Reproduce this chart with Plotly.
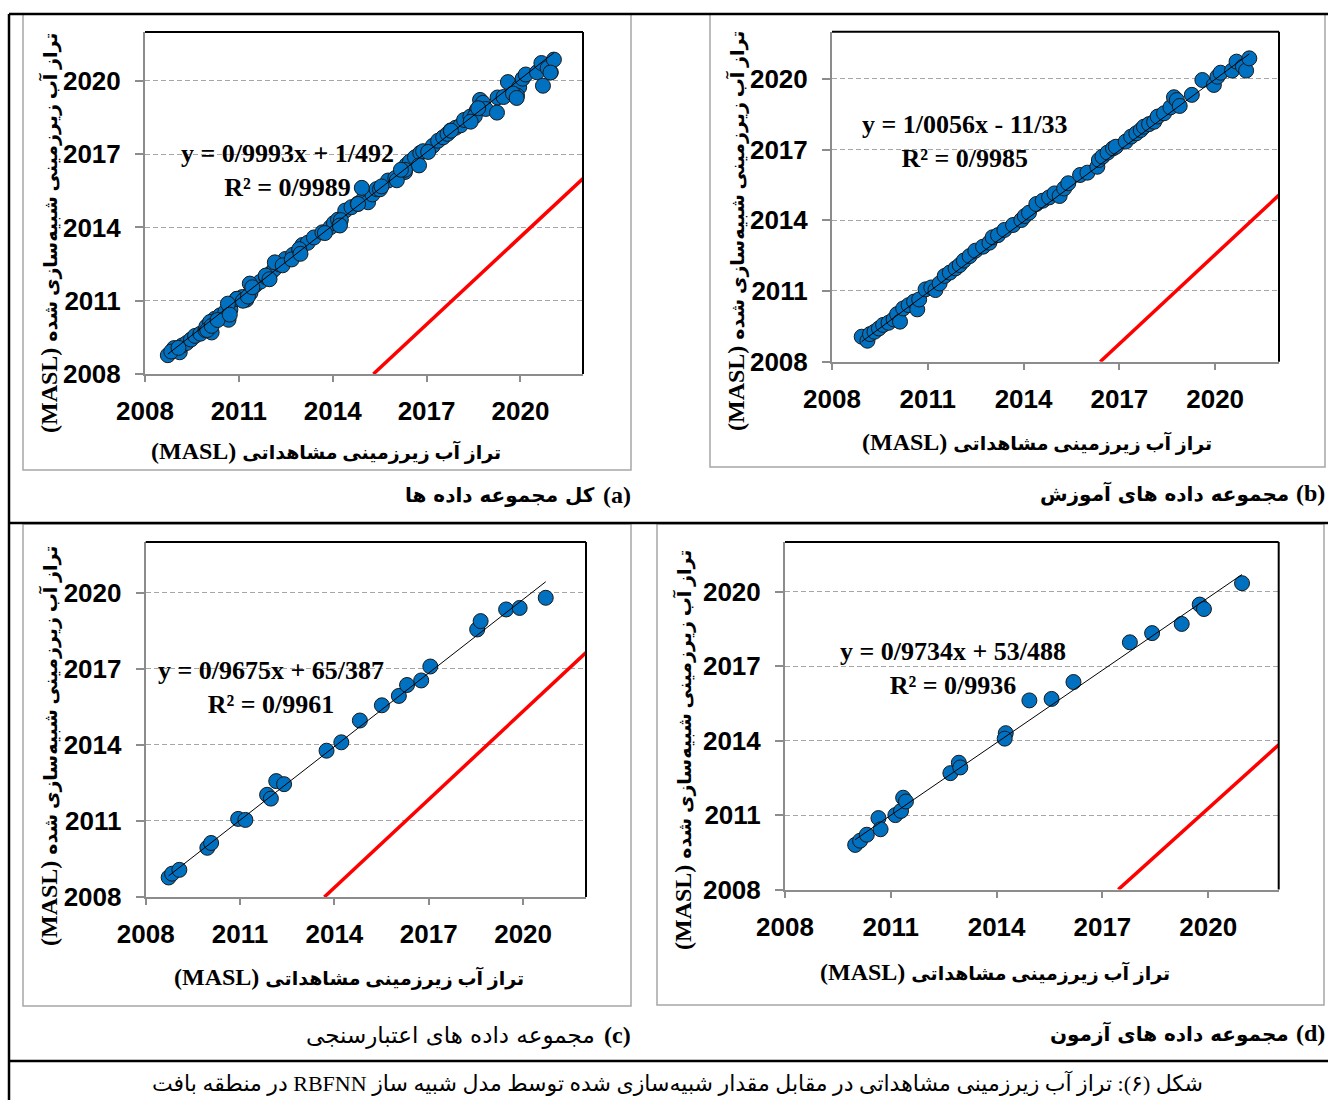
import plotly.graph_objects as go

W, H = 1328, 1100

# ---- data: observed vs simulated groundwater level (MASL) ----
train_obs = [2008.93, 2009.11, 2009.19, 2009.33, 2009.47, 2009.60, 2009.77, 2009.93, 2010.04, 2010.13,
             2010.23, 2010.40, 2010.57, 2010.67, 2010.73, 2010.93, 2011.11, 2011.24, 2011.37, 2011.53,
             2011.69, 2011.87, 2012.00, 2012.13, 2012.31, 2012.49, 2012.73, 2012.93, 2013.03, 2013.20,
             2013.40, 2013.67, 2013.93, 2014.04, 2014.17, 2014.40, 2014.60, 2014.80, 2014.97, 2015.13,
             2015.27, 2015.40, 2015.77, 2016.00, 2016.31, 2016.36, 2016.47, 2016.63, 2016.80, 2016.89,
             2017.20, 2017.37, 2017.53, 2017.67, 2017.77, 2017.93, 2018.09, 2018.20, 2018.40, 2018.60,
             2018.71, 2018.80, 2018.89, 2019.27, 2019.60, 2019.96, 2020.07, 2020.17, 2020.53, 2020.67,
             2020.87, 2020.97, 2021.07]
train_sim = [2009.06, 2008.89, 2009.17, 2009.27, 2009.41, 2009.56, 2009.65, 2009.80, 2010.02, 2009.70,
             2010.26, 2010.40, 2010.55, 2010.22, 2010.64, 2011.07, 2011.15, 2011.04, 2011.32, 2011.64,
             2011.78, 2011.96, 2012.10, 2012.29, 2012.48, 2012.71, 2012.88, 2013.05, 2013.28, 2013.37,
             2013.59, 2013.80, 2014.01, 2014.18, 2014.32, 2014.69, 2014.83, 2014.97, 2015.14, 2015.03,
             2015.35, 2015.57, 2015.92, 2016.02, 2016.27, 2016.56, 2016.70, 2016.87, 2017.05, 2017.12,
             2017.34, 2017.55, 2017.69, 2017.83, 2017.97, 2018.08, 2018.18, 2018.40, 2018.54, 2018.79,
             2019.22, 2019.10, 2018.85, 2019.32, 2019.95, 2019.74, 2020.09, 2020.26, 2020.35, 2020.73,
             2020.52, 2020.35, 2020.87]

valid_obs = [2008.73, 2008.84, 2009.07, 2009.96, 2010.08, 2010.94, 2011.17, 2011.86, 2011.98, 2012.15,
             2012.40, 2013.75, 2014.22, 2014.81, 2015.51, 2016.05, 2016.31, 2016.76, 2017.05, 2018.54,
             2018.65, 2019.46, 2019.89, 2020.72]
valid_sim = [2008.77, 2008.92, 2009.07, 2009.94, 2010.13, 2011.08, 2011.04, 2012.03, 2011.88, 2012.57,
             2012.45, 2013.77, 2014.10, 2014.96, 2015.56, 2015.93, 2016.36, 2016.54, 2017.09, 2018.55,
             2018.88, 2019.34, 2019.40, 2019.80]

test_obs = [2009.99, 2010.13, 2010.32, 2010.65, 2010.71, 2011.13, 2011.29, 2011.35, 2011.43, 2012.69,
            2012.93, 2012.97, 2014.26, 2014.23, 2014.93, 2015.56, 2016.18, 2017.78, 2018.41, 2019.25,
            2019.76, 2019.88, 2020.96]
test_sim = [2009.80, 2009.97, 2010.21, 2010.88, 2010.43, 2011.00, 2011.17, 2011.70, 2011.55, 2012.69,
            2013.11, 2012.92, 2014.30, 2014.08, 2015.62, 2015.68, 2016.36, 2017.96, 2018.33, 2018.70,
            2019.48, 2019.30, 2020.34]

# whole data set = training + validation + test
all_obs = train_obs + valid_obs + test_obs
all_sim = train_sim + valid_sim + test_sim

# fitted trend lines (slope, intercept) and their printed labels
fit_slope = [0.9993, 1.0056, 0.9675, 0.9734]
fit_intercept = [1.492, -11.33, 65.387, 53.488]
fit_eq = ["y = 0/9993x + 1/492", "y = 1/0056x - 11/33", "y = 0/9675x + 65/387", "y = 0/9734x + 53/488"]
fit_r2 = ["R² = 0/9989", "R² = 0/9985", "R² = 0/9961", "R² = 0/9936"]

# red reference line end points per panel
ref_x = [[2015.3, 2022.0], [2016.4, 2022.0], [2013.68, 2022.0], [2017.45, 2022.0]]
ref_y = [[2008.0, 2016.0], [2008.0, 2015.07], [2008.0, 2017.64], [2008.0, 2013.83]]

ticks = [2008, 2011, 2014, 2017, 2020]
axis_range = [2008, 2022]

x_title_fa = "تراز آب زیرزمینی مشاهداتی"
y_title_fa = "تراز آب زیرزمینی شبیه\u200cسازی شده"
unit = "(MASL)"
letters = ["(a)", "(b)", "(c)", "(d)"]
captions = ["کل مجموعه داده ها", "مجموعه داده های آموزش",
            "مجموعه داده های اعتبارسنجی", "مجموعه داده های آزمون"]
figure_caption = "شکل (۶): تراز آب زیرزمینی مشاهداتی در مقابل مقدار شبیه\u200cسازی شده توسط مدل شبیه ساز RBFNN در منطقه بافت"

datasets = [(all_obs, all_sim), (train_obs, train_sim), (valid_obs, valid_sim), (test_obs, test_sim)]

# ---- page geometry (pixels) ----
plot_px = [  # left, top, right, bottom of each plot area
    (145, 32, 583, 374),
    (832, 31.7, 1279, 361.7),
    (145.7, 542, 586, 897),
    (785, 542, 1278.7, 889.6),
]
box_px = [(23, 14, 631, 470), (710, 14, 1325, 467), (23, 524, 631, 1006), (657, 524, 1324, 1005)]
eq_pos = [(287, 170), (965, 141), (271, 687), (953, 668)]
xt_pos = [(326, 451), (1037, 442), (349, 977), (995, 972)]
yt_pos = [(49, 233), (736, 231), (49, 746), (683, 750)]
cap_pos = [(633, 495), (1327, 493), (633, 1035), (1327, 1033)]
cap_bold = [True, True, False, True]
cap_size = [20, 20, 23, 20]


def px(x):
    return x / W


def py(y):
    return 1 - y / H


def title_text(fa):
    # Persian words followed by the unit, laid out right-to-left
    return "<span style='font-size:19px'>\u202b" + fa + "</span> " + unit + "\u202c"


SERIF = "Liberation Serif, DejaVu Sans"
SANS = "Liberation Sans, Arial"
GRAY = "#8c8c8c"

fig = go.Figure()
shapes = []
annotations = []

for i, (obs, sim) in enumerate(datasets):
    n = "" if i == 0 else str(i + 1)
    xa, ya = "x" + n, "y" + n

    fig.add_trace(go.Scatter(x=ref_x[i], y=ref_y[i], mode="lines",
                             line=dict(color="#ff0000", width=3.5),
                             xaxis=xa, yaxis=ya, hoverinfo="skip"))
    fig.add_trace(go.Scatter(x=obs, y=sim, mode="markers",
                             marker=dict(size=15, color="#0070c0",
                                         line=dict(color="#1a1a1a", width=1)),
                             xaxis=xa, yaxis=ya))
    x0, x1 = min(obs), max(obs)
    fig.add_trace(go.Scatter(x=[x0, x1],
                             y=[fit_slope[i] * x0 + fit_intercept[i], fit_slope[i] * x1 + fit_intercept[i]],
                             mode="lines", line=dict(color="black", width=1),
                             xaxis=xa, yaxis=ya, hoverinfo="skip"))

    l, t, r, b = plot_px[i]
    common = dict(range=axis_range, tickvals=ticks, ticks="outside", tickcolor=GRAY, tickwidth=1.5,
                  showline=True, linecolor=GRAY, linewidth=2, zeroline=False, mirror=False,
                  automargin=False,
                  tickfont=dict(family=SANS, size=26, color="black", weight="bold"))
    fig.update_layout(**{
        ("xaxis" + n): dict(common, domain=[px(l), px(r)], anchor=ya, showgrid=False,
                            ticklen=6, ticklabelstandoff=7),
        ("yaxis" + n): dict(common, domain=[py(b), py(t)], anchor=xa, showgrid=True,
                            gridcolor="#a6a6a6", gridwidth=1, griddash="5px,3px",
                            ticklen=8, ticklabelstandoff=9),
    })

    # black top/right frame of the plot area
    shapes.append(dict(type="line", xref=xa + " domain", yref=ya + " domain",
                       x0=0, x1=1, y0=1, y1=1, line=dict(color="black", width=2)))
    shapes.append(dict(type="line", xref=xa + " domain", yref=ya + " domain",
                       x0=1, x1=1, y0=0, y1=1, line=dict(color="black", width=2)))

    # light chart-area border
    bl, bt, br, bb = box_px[i]
    shapes.append(dict(type="rect", xref="paper", yref="paper", x0=px(bl), x1=px(br),
                       y0=py(bb), y1=py(bt), line=dict(color="#a6a6a6", width=1.5), layer="below"))

    # regression equation
    ex, ey = eq_pos[i]
    annotations.append(dict(xref="paper", yref="paper", x=px(ex), y=py(ey),
                            text=fit_eq[i] + "<br>" + fit_r2[i], showarrow=False,
                            xanchor="center", yanchor="middle", align="center",
                            font=dict(family=SERIF, size=26, color="black", weight="bold")))
    # axis titles
    tx, ty = xt_pos[i]
    annotations.append(dict(xref="paper", yref="paper", x=px(tx), y=py(ty), text=title_text(x_title_fa),
                            showarrow=False, xanchor="center", yanchor="middle",
                            font=dict(family=SERIF, size=24, color="black", weight="bold")))
    vx, vy = yt_pos[i]
    annotations.append(dict(xref="paper", yref="paper", x=px(vx), y=py(vy), text=title_text(y_title_fa),
                            showarrow=False, xanchor="center", yanchor="middle", textangle=-90,
                            font=dict(family=SERIF, size=24, color="black", weight="bold")))
    # panel caption
    cx, cy = cap_pos[i]
    annotations.append(dict(xref="paper", yref="paper", x=px(cx), y=py(cy), text=letters[i],
                            showarrow=False, xanchor="right", yanchor="middle",
                            font=dict(family=SERIF, size=24, color="black", weight="bold")))
    annotations.append(dict(xref="paper", yref="paper", x=px(cx - 36), y=py(cy), text=captions[i],
                            showarrow=False, xanchor="right", yanchor="middle",
                            font=dict(family="DejaVu Sans", size=cap_size[i], color="black",
                                      weight="bold" if cap_bold[i] else "normal")))

# figure caption
annotations.append(dict(xref="paper", yref="paper", x=px(677), y=py(1083),
                        text="\u202b" + figure_caption + "\u202c",
                        showarrow=False, xanchor="center", yanchor="middle",
                        font=dict(family="Liberation Serif, DejaVu Sans", size=22, color="black")))

# table rules
for (x0, y0, x1, y1) in [(9, 14, W, 14), (9, 523, W, 523), (9, 1061, W, 1061), (9, 14, 9, H)]:
    shapes.append(dict(type="line", xref="paper", yref="paper", x0=px(x0), x1=px(x1),
                       y0=py(y0), y1=py(y1), line=dict(color="black", width=2.5)))

fig.update_layout(width=W, height=H, margin=dict(l=0, r=0, t=0, b=0, autoexpand=False),
                  paper_bgcolor="white", plot_bgcolor="white", showlegend=False,
                  shapes=shapes, annotations=annotations)

fig.write_html("out.html")
